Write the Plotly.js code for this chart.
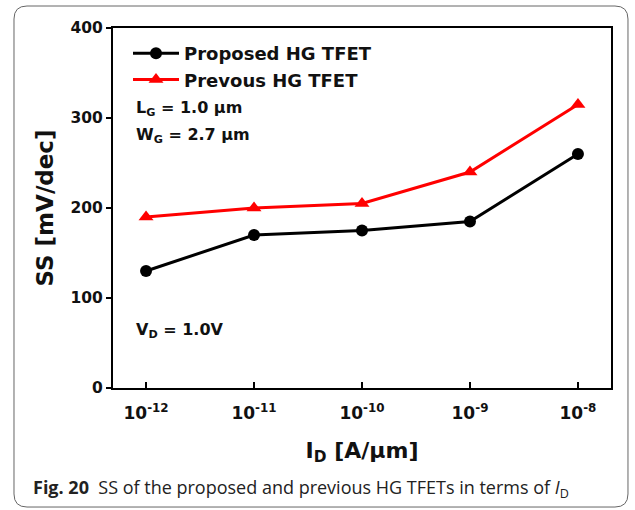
<!DOCTYPE html>
<html><head><meta charset="utf-8">
<script src="https://cdn.plot.ly/plotly-3.0.1.min.js"></script>
<style>html,body{margin:0;padding:0;background:#fff}#plot{width:635px;height:510px}</style>
</head><body><div id="plot"></div>
<script>
const currents = [1e-12, 1e-11, 1e-10, 1e-9, 1e-8];
const tickLabels = ['10<sup>-12</sup>', '10<sup>-11</sup>', '10<sup>-10</sup>', '10<sup>-9</sup>', '10<sup>-8</sup>'];
const proposedSS = [130, 170, 175, 185, 260];
const previousSS = [190, 200, 205, 240, 315];
const yTicks = [0, 100, 200, 300, 400];

const W = 635, H = 510, L = 113, R = 24, T = 28, B = 122;
const pw = W - L - R, ph = H - T - B;
const px = x => (x - L) / pw;
const py = y => (H - B - y) / ph;

function roundRect(x0, y0, x1, y1, r) {
  const X = v => px(v).toFixed(4), Y = v => py(v).toFixed(4);
  return `M ${X(x0 + r)},${Y(y0)} L ${X(x1 - r)},${Y(y0)} Q ${X(x1)},${Y(y0)} ${X(x1)},${Y(y0 + r)} ` +
    `L ${X(x1)},${Y(y1 - r)} Q ${X(x1)},${Y(y1)} ${X(x1 - r)},${Y(y1)} L ${X(x0 + r)},${Y(y1)} ` +
    `Q ${X(x0)},${Y(y1)} ${X(x0)},${Y(y1 - r)} L ${X(x0)},${Y(y0 + r)} Q ${X(x0)},${Y(y0)} ${X(x0 + r)},${Y(y0)} Z`;
}

const font = '"DejaVu Sans", Arial, sans-serif';
const ink = '#111';

const traces = [
  { x: currents, y: proposedSS, name: 'Proposed HG TFET', mode: 'lines+markers',
    line: { color: '#000', width: 3 }, marker: { symbol: 'circle', size: 12, color: '#000' } },
  { x: currents, y: previousSS, name: 'Prevous HG TFET', mode: 'lines+markers',
    line: { color: '#ff0000', width: 3 }, marker: { symbol: 'triangle-up', size: 13, color: '#ff0000' } }
];

const layout = {
  width: W, height: H,
  margin: { l: L, r: R, t: T, b: B },
  paper_bgcolor: '#fff', plot_bgcolor: '#fff',
  font: { family: font, color: ink },
  showlegend: true,
  legend: { x: px(128), y: py(35), xanchor: 'left', yanchor: 'top', bgcolor: 'rgba(0,0,0,0)',
    itemwidth: 46,
    font: { family: font, size: 18, color: ink, weight: 'bold' }, tracegroupgap: 0 },
  xaxis: {
    type: 'log', range: [Math.log10(1e-12) - 0.306, Math.log10(1e-8) + 0.306],
    tickvals: currents, ticktext: tickLabels,
    ticks: 'inside', ticklen: 6, tickwidth: 2, tickcolor: '#000',
    ticklabelstandoff: 9,
    showline: true, mirror: true, linecolor: '#000', linewidth: 2,
    showgrid: false, zeroline: false,
    tickfont: { family: font, size: 17, color: ink, weight: 'bold' },
    title: { text: 'I<sub>D</sub> [A/µm]', font: { family: font, size: 22, color: ink, weight: 'bold' }, standoff: 20 }
  },
  yaxis: {
    range: [0, 400], tickvals: yTicks,
    ticks: 'outside', ticklen: 5, tickwidth: 2, tickcolor: '#000',
    showline: true, mirror: true, linecolor: '#000', linewidth: 2,
    showgrid: false, zeroline: false,
    tickfont: { family: font, size: 15.5, color: ink, weight: 'bold' },
    title: { text: 'SS [mV/dec]', font: { family: font, size: 23, color: ink, weight: 'bold' }, standoff: 10 }
  },
  shapes: [
    { type: 'path', xref: 'paper', yref: 'paper', path: roundRect(14, 6, 628, 507, 13),
      line: { color: '#666', width: 1 }, fillcolor: 'rgba(0,0,0,0)', layer: 'below' }
  ],
  annotations: [
    { xref: 'paper', yref: 'paper', x: px(134), y: py(109), xanchor: 'left', yanchor: 'middle', showarrow: false,
      text: 'L<sub>G</sub> = 1.0 µm', font: { family: font, size: 16, color: ink, weight: 'bold' } },
    { xref: 'paper', yref: 'paper', x: px(134), y: py(135), xanchor: 'left', yanchor: 'middle', showarrow: false,
      text: 'W<sub>G</sub> = 2.7 µm', font: { family: font, size: 16, color: ink, weight: 'bold' } },
    { xref: 'paper', yref: 'paper', x: px(134), y: py(330), xanchor: 'left', yanchor: 'middle', showarrow: false,
      text: 'V<sub>D</sub> = 1.0V', font: { family: font, size: 16, color: ink, weight: 'bold' } },
    { xref: 'paper', yref: 'paper', x: px(31), y: py(489), xanchor: 'left', yanchor: 'middle', showarrow: false,
      text: '<b>Fig. 20</b>  SS of the proposed and previous HG TFETs in terms of <i>I</i><sub>D</sub>',
      font: { family: '"Open Sans", "Noto Sans", sans-serif', size: 18, color: '#222' } }
  ]
};

Plotly.newPlot('plot', traces, layout, { displayModeBar: false, staticPlot: true });
</script></body></html>
